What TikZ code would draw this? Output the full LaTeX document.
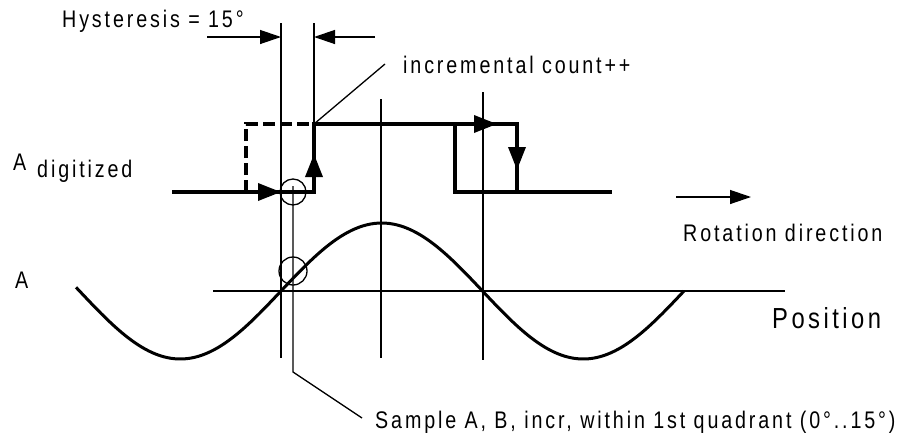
\documentclass[tikz,border=0pt]{standalone}
\usepackage{fontspec}
\setmainfont{Liberation Sans}[FakeStretch=0.82,LetterSpace=12]
\usetikzlibrary{arrows.meta}
\begin{document}
\begin{tikzpicture}[x=1pt,y=-1pt,
  thin line/.style={line width=1.3pt},
  sig/.style={line width=3.5pt},
  wave/.style={line width=3pt},
  lbl/.style={anchor=base west,inner sep=0pt,font=\fontsize{24}{28}\selectfont},
  bigtip/.style={-{Triangle[length=23pt,width=17pt]}},
  smalltip/.style={-{Triangle[length=21pt,width=14pt]}}
]
\useasboundingbox (0,0) rectangle (921,437);
% vertical guide lines
\coordinate (v1t) at (281,23);  \coordinate (v1b) at (281,358);
\coordinate (v2t) at (293,186); \coordinate (v2b) at (293,372);
\coordinate (v2e) at (362,418);
\coordinate (v3t) at (314,23);  \coordinate (v3b) at (314,124);
\coordinate (v4t) at (381,99);  \coordinate (v4b) at (381,358);
\coordinate (v5t) at (483,92);  \coordinate (v5b) at (483,360);
\draw[thin line] (v1t) -- (v1b);
\draw[thin line] (v2t) -- (v2b) -- (v2e);
\draw[thin line] (v3t) -- (v3b);
\draw[thin line] (v4t) -- (v4b);
\draw[thin line] (v5t) -- (v5b);
% axis
\coordinate (ax1) at (213,291); \coordinate (ax2) at (785,291);
\draw[thin line] (ax1) -- (ax2);
% hysteresis dimension arrows
\coordinate (h1) at (207,37); \coordinate (h1t) at (281,37);
\coordinate (h2) at (375,37); \coordinate (h2t) at (314,37);
\draw[thin line,smalltip] (h1) -- (h1t);
\draw[thin line,smalltip] (h2) -- (h2t);
% rotation direction arrow
\coordinate (r1) at (676,197); \coordinate (r2) at (751,197);
\draw[thin line,smalltip] (r1) -- (r2);
% incremental leader
\coordinate (inc) at (385,64);
\draw[thin line] (v3b) -- (inc);
% digitized signal
\draw[sig,line join=miter] (172,192) -- (314,192) -- (314,124) -- (517,124) -- (517,192) -- (612,192);
\draw[sig,line join=miter] (455,124) -- (455,192) -- (517,192);
\draw[sig,dash pattern=on 12pt off 5pt] (246,192) -- (246,124) -- (314,124);
\draw[sig,bigtip] (250,192) -- (281,192);
\draw[sig,bigtip] (314,186) -- (314,154);
\draw[sig,bigtip] (465,124) -- (497,124);
\draw[sig,bigtip] (517,140) -- (517,170);
% circles
\draw[thin line] (293,192) circle[radius=13];
\draw[thin line] (293,271) circle[radius=14];
% sine
\draw[wave] plot[domain=76:684,samples=160,smooth] (\x,{291-68*sin((\x-281)/201.5*180)});
% texts
\node[lbl] (hyst) at (62,27) {Hysteresis = 15°};
\node[lbl] (incr) at (403,73) {incremental count++};
\node[lbl] (ad) at (13,170) {A};
\node[lbl] (dig) at (37,177) {digitized};
\node[lbl] (asig) at (15,288) {A};
\node[lbl] (rot) at (683,241) {Rotation direction};
\node[lbl,font=\fontsize{29}{33}\selectfont] (pos) at (772,328) {Position};
\node[lbl] (samp) at (375,428) {Sample A, B, incr, within 1st quadrant (0°..15°)};
\end{tikzpicture}
\end{document}
